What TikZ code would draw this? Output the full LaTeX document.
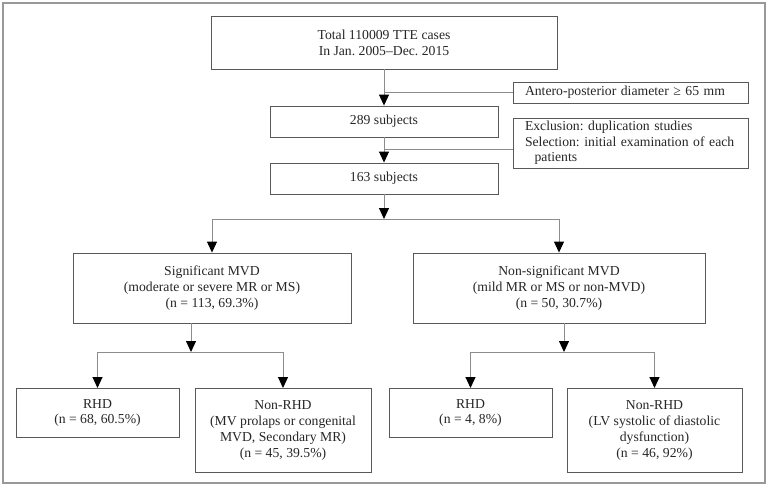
\documentclass[tikz,border=0pt]{standalone}
\usepackage{fontspec}
\setmainfont{Liberation Serif}
\usetikzlibrary{arrows.meta}
\frenchspacing

\tikzset{
  box/.style={draw=black!65, line width=0.9pt, align=center, inner sep=2pt,
    font=\fontsize{13.7}{15.7}\selectfont, text=black!85},
  sidebox/.style={box, align=left, text width=211pt, inner xsep=12pt},
  link/.style={draw=black!45, line width=1pt},
  arr/.style={link, -{Triangle[black, length=11pt, width=10pt]}}
}

\begin{document}
\begin{tikzpicture}[x=1pt, y=-1pt]
        \useasboundingbox (0,0) rectangle (768,488);
        \draw[black!40, line width=1.2pt] (3,3) rectangle (765,483);

        \node[box, minimum width=346pt, minimum height=53pt] (total) at (384,42.5)
          {Total 110009 TTE cases\\In Jan. 2005--Dec. 2015};
        \node[sidebox, minimum height=21pt] (excl1) at (630.5,92.5)
          {Antero-posterior diameter ≥ 65 mm};
        \node[box, minimum width=228pt, minimum height=31pt] (s289) at (384,121.5) {289 subjects};
        \node[sidebox, minimum height=50pt] (excl2) at (630.5,143)
          {Exclusion: duplication studies\\Selection: initial examination of each\\\hspace*{0.7em}patients};
        \node[box, minimum width=228pt, minimum height=31pt] (s163) at (384,178.5) {163 subjects};

        \node[box, minimum width=278pt, minimum height=70pt] (sig) at (212,288)
          {Significant MVD\\(moderate or severe MR or MS)\\(n = 113, 69.3\%)};
        \node[box, minimum width=292pt, minimum height=70pt] (nonsig) at (559,288)
          {Non-significant MVD\\(mild MR or MS or non-MVD)\\(n = 50, 30.7\%)};

        \node[box, minimum width=163pt, minimum height=49pt, anchor=north] (rhdA) at (97.5,388)
          {RHD\\(n = 68, 60.5\%)};
        \node[box, minimum width=176pt, minimum height=84pt, anchor=north] (nonrhdA) at (283,388)
          {Non-RHD\\(MV prolaps or congenital\\MVD, Secondary MR)\\(n = 45, 39.5\%)};
        \node[box, minimum width=163pt, minimum height=49pt, anchor=north] (rhdB) at (470.5,388)
          {RHD\\(n = 4, 8\%)};
        \node[box, minimum width=175pt, minimum height=84pt, anchor=north] (nonrhdB) at (654.5,388)
          {Non-RHD\\(LV systolic of diastolic\\dysfunction)\\(n = 46, 92\%)};

        % exclusions
        \coordinate (j1) at (total.south |- excl1.west);
        \coordinate (j2) at (384,149);
        \draw[arr] (total.south) -- (s289.north);
        \draw[link] (j1) -- (excl1.west);
        \draw[arr] (s289.south) -- (s163.north);
        \draw[link] (j2) -- (j2 -| excl2.west);

        % first split
        \coordinate (sp) at (384,219);
        \draw[arr] (s163.south) -- (sp);
        \draw[link] (sig.north |- sp) -- (nonsig.north |- sp);
        \draw[arr] (sig.north |- sp) -- (sig.north);
        \draw[arr] (nonsig.north |- sp) -- (nonsig.north);

        % second split
        \coordinate (spA) at (191,352);
        \coordinate (spB) at (564,352);
        \draw[arr] (spA |- sig.south) -- (spA);
        \draw[link] (rhdA.north |- spA) -- (nonrhdA.north |- spA);
        \draw[arr] (rhdA.north |- spA) -- (rhdA.north);
        \draw[arr] (nonrhdA.north |- spA) -- (nonrhdA.north);
        \draw[arr] (spB |- nonsig.south) -- (spB);
        \draw[link] (rhdB.north |- spB) -- (nonrhdB.north |- spB);
        \draw[arr] (rhdB.north |- spB) -- (rhdB.north);
        \draw[arr] (nonrhdB.north |- spB) -- (nonrhdB.north);
\end{tikzpicture}
\end{document}
